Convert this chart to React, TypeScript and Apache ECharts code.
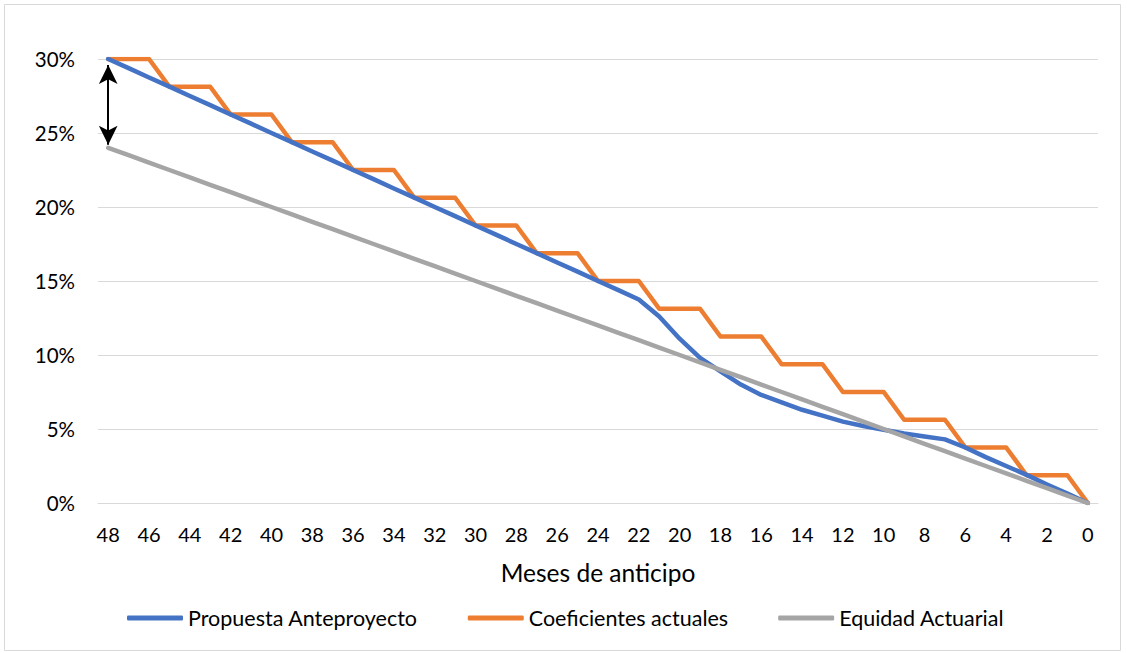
import React, { useEffect, useRef } from "react";
import * as echarts from "echarts";

const months = ["48","47","46","45","44","43","42","41","40","39","38","37","36","35","34","33","32","31","30","29","28","27","26","25","24","23","22","21","20","19","18","17","16","15","14","13","12","11","10","9","8","7","6","5","4","3","2","1","0"];

const propuesta = [30.00,29.38,28.75,28.13,27.50,26.88,26.25,25.63,25.00,24.38,23.75,23.13,22.50,21.88,21.25,20.63,20.00,19.38,18.75,18.13,17.50,16.88,16.25,15.63,15.00,14.38,13.75,12.6,11.1,9.8,8.9,8.0,7.3,6.8,6.3,5.9,5.5,5.2,4.95,4.7,4.5,4.3,3.75,3.1,2.5,1.9,1.25,0.63,0];

const coeficientes = [30,30,30,28.125,28.125,28.125,26.25,26.25,26.25,24.375,24.375,24.375,22.5,22.5,22.5,20.625,20.625,20.625,18.75,18.75,18.75,16.875,16.875,16.875,15,15,15,13.125,13.125,13.125,11.25,11.25,11.25,9.375,9.375,9.375,7.5,7.5,7.5,5.625,5.625,5.625,3.75,3.75,3.75,1.875,1.875,1.875,0];

const equidad = [24,23.5,23,22.5,22,21.5,21,20.5,20,19.5,19,18.5,18,17.5,17,16.5,16,15.5,15,14.5,14,13.5,13,12.5,12,11.5,11,10.5,10,9.5,9,8.5,8,7.5,7,6.5,6,5.5,5,4.5,4,3.5,3,2.5,2,1.5,1,0.5,0];

const seriesNames = ["Propuesta Anteproyecto", "Coeficientes actuales", "Equidad Actuarial"];
const colors = ["#4472C4", "#ED7D31", "#A5A5A5"];
const axisTitle = "Meses de anticipo";

const FONT = "Lato";

export default function App() {
  const ref = useRef<HTMLDivElement>(null);
  useEffect(() => {
    if (!ref.current) return;
    const chart = echarts.init(ref.current, null, { renderer: "svg" });
    const mk = (name: string, data: number[], color: string, extra: any = {}) => ({
      name,
      type: "line",
      data,
      symbol: "none",
      lineStyle: { color, width: 4.5, cap: "round", join: "round" },
      itemStyle: { color },
      z: 2,
      ...extra,
    });
    chart.setOption({
      animation: false,
      backgroundColor: "#ffffff",
      textStyle: { fontFamily: FONT },
      graphic: [
        {
          type: "rect",
          shape: { x: 4.5, y: 4.5, width: 1116, height: 646 },
          style: { fill: "none", stroke: "#D9D9D9", lineWidth: 1 },
          silent: true,
        },
      ],
      grid: { left: 98, right: 29, top: 59, bottom: 150, containLabel: false },
      xAxis: {
        type: "category",
        data: months,
        boundaryGap: true,
        axisLine: { show: true, lineStyle: { color: "#D9D9D9", width: 1 } },
        axisTick: { show: false },
        axisLabel: { interval: 1, color: "#000", fontSize: 20, margin: 21, fontFamily: FONT },
        name: axisTitle,
        nameLocation: "middle",
        nameGap: 57,
        nameTextStyle: { color: "#000", fontSize: 24.5, fontFamily: FONT },
      },
      yAxis: {
        type: "value",
        min: 0,
        max: 30,
        interval: 5,
        axisLine: { show: false },
        axisTick: { show: false },
        splitLine: { lineStyle: { color: "#D9D9D9", width: 1 } },
        axisLabel: { formatter: "{value}%", color: "#000", fontSize: 20.5, margin: 23, fontFamily: FONT },
      },
      legend: {
        left: 122,
        top: 602,
        icon: "roundRect",
        itemWidth: 56,
        itemHeight: 5,
        itemGap: 50,
        textStyle: { color: "#000", fontSize: 21.5, fontFamily: FONT, padding: [0, 0, 0, 0] },
        data: seriesNames,
      },
      series: [
        mk(seriesNames[0], propuesta, colors[0], { z: 3 }),
        mk(seriesNames[1], coeficientes, colors[1], { z: 2 }),
        mk(seriesNames[2], equidad, colors[2], {
          z: 4,
          markLine: {
            silent: true,
            symbol: ["arrow", "arrow"],
            symbolSize: [14, 19],
            label: { show: false },
            lineStyle: { color: "#000", width: 2, type: "solid" },
            data: [[{ coord: ["48", 29.6] }, { coord: ["48", 24.2] }]],
          },
        }),
      ],
    });
    return () => chart.dispose();
  }, []);
  return <div ref={ref} style={{ position: "fixed", left: 0, top: 0, width: 1127, height: 653 }} />;
}
